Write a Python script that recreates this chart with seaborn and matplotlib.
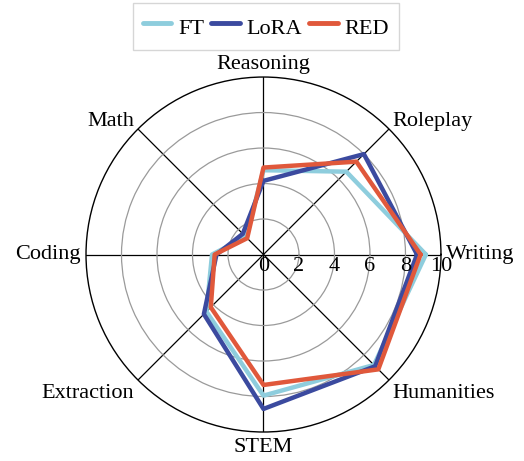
import numpy as np
import pandas as pd
import matplotlib
matplotlib.use("Agg")
import matplotlib.pyplot as plt
import matplotlib.transforms as mtransforms
from matplotlib.lines import Line2D
import seaborn as sns

categories = ["Writing", "Roleplay", "Reasoning", "Math", "Coding", "Extraction", "STEM", "Humanities"]
ft_scores = [9.15, 6.6, 4.75, 1.4, 2.9, 4.55, 7.95, 8.8]
lora_scores = [8.65, 8.0, 4.15, 1.65, 2.65, 4.75, 8.7, 8.9]
red_scores = [8.85, 7.4, 4.9, 1.3, 2.75, 4.2, 7.35, 9.15]
models = ["FT", "LoRA", "RED"]
colors = ["#8ECDDD", "#3B4A9F", "#E0583B"]
r_ticks = [0, 2, 4, 6, 8, 10]

sns.set_theme(style="white")
plt.rcParams["font.family"] = ["Liberation Serif", "DejaVu Serif"]
plt.rcParams["text.color"] = "black"

FS = 16
n = len(categories)
angles = np.linspace(0, 2 * np.pi, n, endpoint=False)

rows = []
for model, vals in zip(models, [ft_scores, lora_scores, red_scores]):
    closed = list(vals) + [vals[0]]
    th = list(angles) + [angles[0] + 2 * np.pi]
    for i, (t, v) in enumerate(zip(th, closed)):
        rows.append({"model": model, "theta": t, "score": v, "order": i})
df = pd.DataFrame(rows)

fig = plt.figure(figsize=(5.24, 4.61), dpi=100)
ax = fig.add_axes([0.1641, 0.0629, 0.6775, 0.770], projection="polar")

sns.lineplot(data=df, x="theta", y="score", hue="model", hue_order=models,
             palette=colors, sort=False, estimator=None, units="model",
             linewidth=3.2, ax=ax, legend=False)

ax.set_ylim(0, 10)
ax.set_yticks(r_ticks[1:-1])
ax.set_yticklabels([])
ax.yaxis.grid(True, color="#9a9a9a", linewidth=0.9)
ax.set_xticks(angles)
ax.set_xticklabels([])
ax.xaxis.grid(True, color="black", linewidth=0.9)
ax.spines["polar"].set_color("black")
ax.spines["polar"].set_linewidth(1.0)
ax.set_xlabel("")
ax.set_ylabel("")

for cat, a in zip(categories, angles):
    c, s = np.cos(a), np.sin(a)
    if abs(c) < 1e-6:
        ha = "center"
    elif c > 0:
        ha = "left"
    else:
        ha = "right"
    dx = 5.0 * c
    if abs(s) < 1e-6:
        va, dy = "center", 0.0
    elif s > 0:
        va, dy = "baseline", 8.0 * s ** 3
    else:
        va, dy = "top", 6.0 * s
    off = mtransforms.ScaledTranslation(dx / 100, dy / 100, fig.dpi_scale_trans)
    ax.text(a, 10, cat, ha=ha, va=va, fontsize=FS, color="black",
            transform=ax.transData + off, clip_on=False)

offset = mtransforms.ScaledTranslation(0, -2 / 72, fig.dpi_scale_trans)
for r in r_ticks:
    ax.text(0, r, str(r), ha="center", va="top", fontsize=FS, color="black",
            transform=ax.transData + offset, zorder=5, clip_on=False)

handles = [Line2D([0], [0], color=c, linewidth=3.5) for c in colors]
leg = fig.legend(handles, models, loc="upper center", bbox_to_anchor=(0.507, 1.0),
                 ncol=3, frameon=True, fontsize=FS, handlelength=1.3,
                 handleheight=1.5, handletextpad=0.3, columnspacing=0.3,
                 fancybox=False, borderpad=0.45, borderaxespad=0.12,
                 edgecolor="#cccccc")
leg.get_frame().set_linewidth(1.0)
for t in leg.get_texts():
    t.set_color("black")

fig.savefig("out.png", dpi=100)
